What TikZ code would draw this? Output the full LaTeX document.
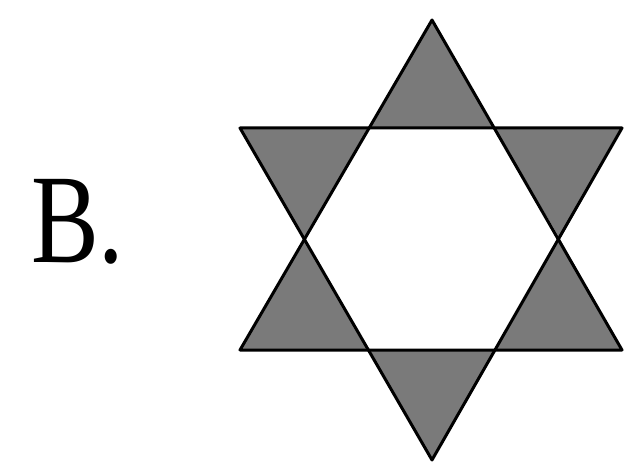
\documentclass[tikz,border=0pt]{standalone}
\usepackage{fontspec}
\setmainfont{Liberation Serif}
\begin{document}
\begin{tikzpicture}[x=1pt,y=-1pt,
  pointfill/.style={fill=black!52},
  edge/.style={draw=black, line width=3pt, line join=round}]
\useasboundingbox (0,0) rectangle (631,470);
% star vertices
\coordinate (T) at (432,20);
\coordinate (Bo) at (432,460);
\coordinate (UL) at (240,128);
\coordinate (UR) at (622,128);
\coordinate (LL) at (240,350);
\coordinate (LR) at (622,350);
% hexagon vertices
\coordinate (h1) at (369,128);
\coordinate (h2) at (495,128);
\coordinate (h3) at (560,239);
\coordinate (h4) at (495,350);
\coordinate (h5) at (369,350);
\coordinate (h6) at (304,239);
% gray points
\fill[pointfill] (T) -- (h2) -- (h1) -- cycle;
\fill[pointfill] (UR) -- (h3) -- (h2) -- cycle;
\fill[pointfill] (LR) -- (h4) -- (h3) -- cycle;
\fill[pointfill] (Bo) -- (h5) -- (h4) -- cycle;
\fill[pointfill] (LL) -- (h6) -- (h5) -- cycle;
\fill[pointfill] (UL) -- (h1) -- (h6) -- cycle;
% outlines
\draw[edge] (T) -- (LL) -- (LR) -- cycle;
\draw[edge] (Bo) -- (UL) -- (UR) -- cycle;
% label
\node[anchor=base west, inner sep=0pt] (lbl) at (31,262) {\scalebox{0.8}[1]{\fontsize{127}{127}\selectfont B.}};
\end{tikzpicture}
\end{document}
